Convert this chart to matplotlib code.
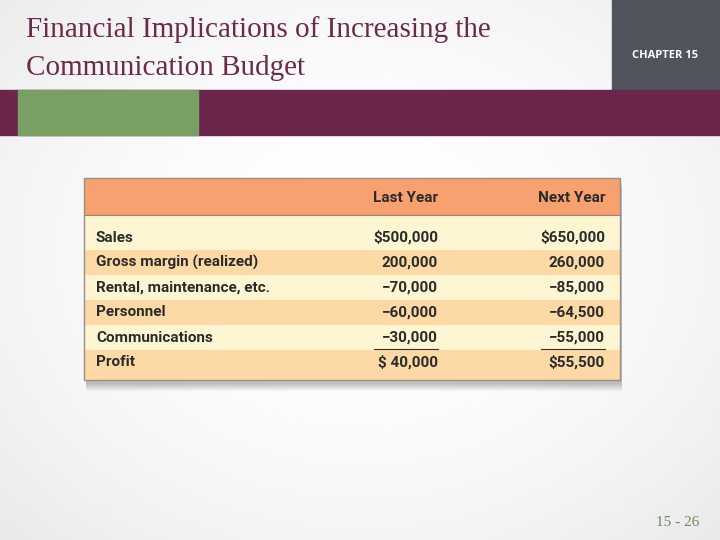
import matplotlib
matplotlib.use("Agg")
import matplotlib.pyplot as plt
from matplotlib.patches import Rectangle
from matplotlib import font_manager
import numpy as np

title_lines = ["Financial Implications of Increasing the", "Communication Budget"]
chapter = "CHAPTER 15"
page = "15 - 26"
columns = ["Last Year", "Next Year"]
rows = ["Sales", "Gross margin (realized)", "Rental, maintenance, etc.",
        "Personnel", "Communications", "Profit"]
last_year = [500000, 200000, -70000, -60000, -30000, 40000]
next_year = [650000, 260000, -85000, -64500, -55000, 55500]

names = {f.name for f in font_manager.fontManager.ttflist}
narrow = "Liberation Sans Narrow" if "Liberation Sans Narrow" in names else "Roboto"


def fmt(v, i, col):
    s = f"{abs(v):,}"
    if v < 0:
        return "\u2212" + s
    if i == 0:
        return "$" + s
    if i == len(rows) - 1:
        return "$ " + s if col == 0 else "$" + s
    return s


fig = plt.figure(figsize=(7.2, 5.4), dpi=100)
ax = fig.add_axes([0, 0, 1, 1])
ax.set_xlim(0, 720)
ax.set_ylim(540, 0)
ax.axis("off")

# subtle background gradient
yy, xx = np.mgrid[0:540:4, 0:720:4]
d = np.sqrt(((xx - 360) / 520) ** 2 + ((yy - 250) / 420) ** 2)
g = 1 - 0.09 * np.clip(d, 0, 1.3) ** 2
bg = np.dstack([g, g, g])
ax.imshow(bg, extent=[0, 720, 540, 0], zorder=0, aspect="auto")

# header decorations
ax.add_patch(Rectangle((612, 0), 108, 90, color="#50545d", zorder=1))
ax.add_patch(Rectangle((0, 90), 720, 45, color="#6b264c", zorder=1))
ax.add_patch(Rectangle((18, 90), 180, 45, color="#789f64", zorder=2))
ax.text(665, 55, chapter, color="white", fontsize=8, family="Open Sans",
        fontweight="bold", ha="center", va="center", zorder=3)

for k, line in enumerate(title_lines):
    ax.text(26, 30 + 38 * k, line, color="#6b2a4c", fontsize=21,
            family="Liberation Serif", ha="left", va="center", zorder=3)

ax.text(678, 523, page, color="#6d8a58", fontsize=11, family="Liberation Serif",
        ha="center", va="center", zorder=3)

# table
x0, x1 = 84, 620
top, head_bot = 178, 215
row_h = 25
first_row_top = 225
# shadow
for s in range(8):
    ax.add_patch(Rectangle((x0 + 2, top + 4 + s), x1 - x0, 380 - top,
                           color="#000000", alpha=0.03, lw=0, zorder=3))
ax.add_patch(Rectangle((x0, top), x1 - x0, head_bot - top, color="#f7a070", lw=0, zorder=4))
ax.add_patch(Rectangle((x0, head_bot), x1 - x0, first_row_top - head_bot,
                       color="#fef6d2", lw=0, zorder=4))
light, dark = "#fef6d2", "#fdd9a6"
for i in range(len(rows)):
    yt = first_row_top + i * row_h
    ax.add_patch(Rectangle((x0, yt), x1 - x0, row_h, color=light if i % 2 == 0 else dark,
                           lw=0, zorder=4))
bottom = first_row_top + len(rows) * row_h + 5
ax.add_patch(Rectangle((x0, bottom - 5), x1 - x0, 5, color=dark, lw=0, zorder=4))
ax.add_patch(Rectangle((x0, top), x1 - x0, bottom - top, fill=False,
                       ec="#9a8f88", lw=1.0, zorder=6))
ax.plot([x0, x1], [head_bot, head_bot], color="#a08070", lw=0.8, zorder=6)

col_x = [438, 605]
tc = "#2b2b2b"
fs = 11
for j, c in enumerate(columns):
    ax.text(col_x[j], (top + head_bot) / 2 + 1, c, ha="right", va="center",
            fontsize=fs, fontweight="bold", family=narrow, color=tc, zorder=7)
for i, r in enumerate(rows):
    yc = first_row_top + i * row_h + row_h / 2
    ax.text(96, yc, r, ha="left", va="center", fontsize=fs, fontweight="bold",
            family=narrow, color=tc, zorder=7)
    for j, vals in enumerate([last_year, next_year]):
        ax.text(col_x[j], yc, fmt(vals[i], i, j), ha="right", va="center", fontsize=fs,
                fontweight="bold", family=narrow, color=tc, zorder=7)

uy = first_row_top + (len(rows) - 1) * row_h - 1
for cx in col_x:
    ax.plot([cx - 64, cx], [uy, uy], color="#333333", lw=0.8, zorder=7)

fig.savefig("out.png", dpi=100)
